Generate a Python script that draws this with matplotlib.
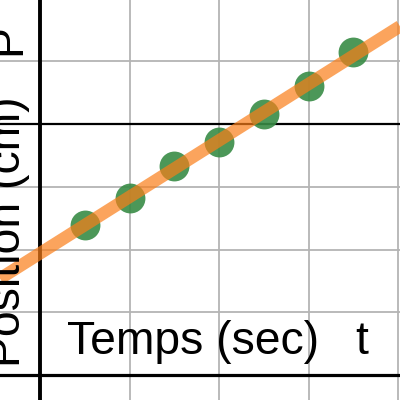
import matplotlib.pyplot as plt

# mesures : temps (sec) et position (cm)
temps = [0.5, 1.0, 1.5, 2.0, 2.5, 3.0, 3.5]
position = [2.39, 2.82, 3.33, 3.72, 4.16, 4.61, 5.15]

# droite d'ajustement P = a*t + b
pente = 0.9
ordonnee = 1.94

x_ticks = [1, 2, 3, 4]
y_ticks = [1, 2, 3, 5, 6]

plt.rcParams['font.family'] = ['Liberation Sans', 'DejaVu Sans']

fig = plt.figure(figsize=(4, 4), dpi=100)
ax = fig.add_axes([0, 0, 1, 1])
xmin, xmax = -0.447, 4.022
ymin, ymax = -0.399, 5.98
ax.set_xlim(xmin, xmax)
ax.set_ylim(ymin, ymax)
ax.axis('off')

for x in x_ticks:
    ax.axvline(x, color='#b4b4b4', lw=1.3, zorder=1)
for y in y_ticks:
    ax.axhline(y, color='#b4b4b4', lw=1.3, zorder=1)
ax.axhline(4, color='black', lw=1.6, zorder=2)
ax.axhline(0, color='black', lw=2.3, zorder=2)
ax.axvline(0, color='black', lw=2.8, zorder=2)

ax.plot(temps, position, 'o', color='#388c46', alpha=0.9, ms=21.5,
        mec='none', zorder=3)
ax.plot([xmin, xmax], [pente * xmin + ordonnee, pente * xmax + ordonnee],
        color='#fa7e19', alpha=0.7, lw=9, solid_capstyle='butt', zorder=4)

fs = 33.3
fig.text(0.05, 0.421, "Position (cm)", fontsize=fs, rotation=90,
         rotation_mode='anchor', ha='center', va='baseline')
fig.text(0.05, 0.8625, "P", fontsize=fs, rotation=90,
         rotation_mode='anchor', ha='left', va='baseline')
fig.text(0.167, 0.115, "Temps (sec)", fontsize=fs, ha='left', va='baseline')
fig.text(0.888, 0.115, "t", fontsize=fs, ha='left', va='baseline')

fig.savefig('out.png', dpi=100)
